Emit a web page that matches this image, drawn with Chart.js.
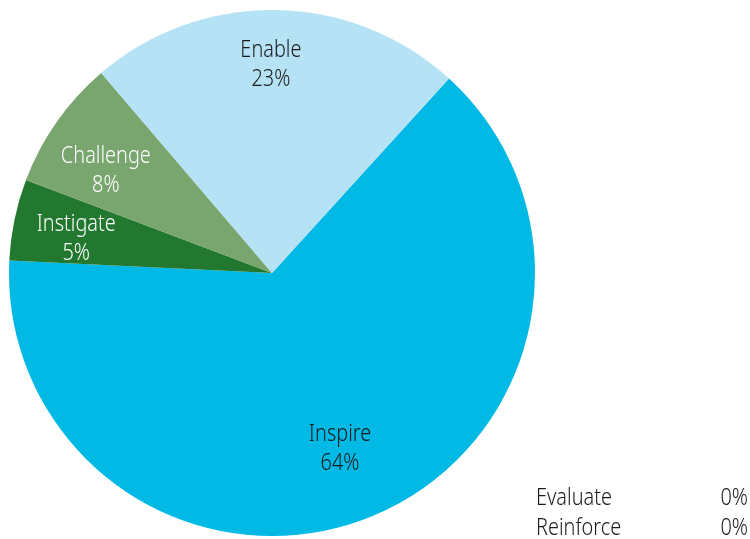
<!DOCTYPE html>
<html>
<head>
<meta charset="utf-8">
<script src="https://cdn.jsdelivr.net/npm/chart.js@4/dist/chart.umd.min.js"></script>
<style>
  html, body { margin: 0; padding: 0; background: #ffffff; }
  #wrap { width: 750px; height: 539px; position: relative; }
</style>
</head>
<body>
<div id="wrap"><canvas id="pie"></canvas></div>
<script>
// Share of activity by category
const categories = ['Inspire', 'Instigate', 'Challenge', 'Enable', 'Evaluate', 'Reinforce'];
const shares = [64, 5, 8, 23, 0, 0];

const sliceColors = ['#00b9e5', '#22782e', '#79a56e', '#b5e2f4', '#cccccc', '#999999'];
const labelColors = ['#1a1a1a', '#ffffff', '#ffffff', '#1a1a1a', '#1a1a1a', '#1a1a1a'];
// where each in-slice label sits: fraction of the radius, and a small turn (degrees) off the slice middle
const labelRadius = [0.712, 0.757, 0.745, 0.797, 0.75, 0.75];
const labelTurn = [1.2, -1.3, -3.1, -1.2, 0, 0];

const FONT = '300 23px "Noto Sans", "Open Sans", sans-serif';
const SQUEEZE = 0.865;

function narrowText(ctx, text, x, y) {
  ctx.save();
  ctx.translate(x, y);
  ctx.scale(SQUEEZE, 1);
  ctx.fillText(text, 0, 0);
  ctx.restore();
}

// Writes name + percentage inside each visible slice, and lists empty categories bottom-right
const sliceLabels = {
  id: 'sliceLabels',
  afterDatasetsDraw(chart) {
    const ctx = chart.ctx;
    const meta = chart.getDatasetMeta(0);
    ctx.save();
    ctx.font = FONT;
    ctx.textAlign = 'center';
    ctx.textBaseline = 'middle';
    const empty = [];
    meta.data.forEach((arc, i) => {
      const v = shares[i];
      if (!v) { empty.push(i); return; }
      const p = arc.getProps(['x', 'y', 'startAngle', 'endAngle', 'outerRadius'], true);
      const mid = (p.startAngle + p.endAngle) / 2 + labelTurn[i] * Math.PI / 180;
      const r = p.outerRadius * labelRadius[i];
      const cx = p.x + Math.cos(mid) * r;
      const cy = p.y + Math.sin(mid) * r + 1.5;
      ctx.fillStyle = labelColors[i];
      narrowText(ctx, categories[i], cx, cy - 14.5);
      narrowText(ctx, v + '%', cx, cy + 14.5);
    });
    // zero-share categories
    ctx.fillStyle = '#1a1a1a';
    const left = 536, right = 748;
    let y = chart.height - 41;
    empty.forEach(i => {
      ctx.textAlign = 'left';
      narrowText(ctx, categories[i], left, y);
      ctx.textAlign = 'right';
      narrowText(ctx, shares[i] + '%', right, y);
      y += 30;
    });
    ctx.restore();
  }
};

new Chart(document.getElementById('pie'), {
  type: 'pie',
  data: {
    labels: categories,
    datasets: [{
      data: shares,
      backgroundColor: sliceColors,
      borderWidth: 0
    }]
  },
  options: {
    responsive: true,
    maintainAspectRatio: false,
    animation: false,
    rotation: 42.3,
    layout: { padding: { left: 9, right: 215, top: 10, bottom: 3 } },
    plugins: {
      legend: { display: false },
      tooltip: { enabled: false }
    }
  },
  plugins: [sliceLabels]
});
</script>
</body>
</html>
